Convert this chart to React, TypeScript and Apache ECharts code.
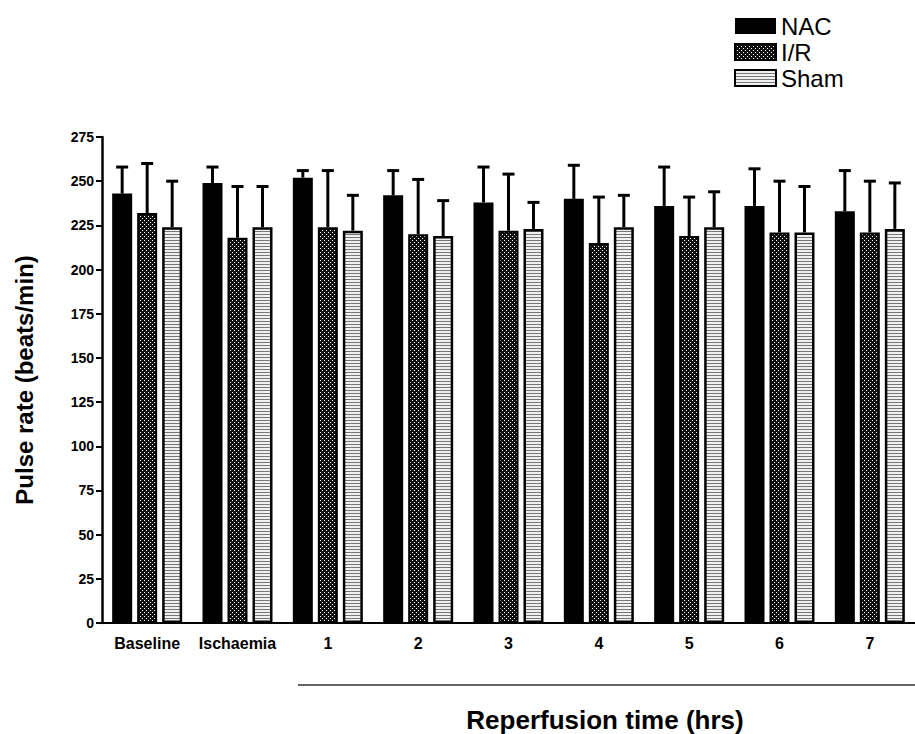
import React, { useEffect, useRef } from 'react';
import * as echarts from 'echarts';

// Time points along the x axis
const categories = ['Baseline', 'Ischaemia', '1', '2', '3', '4', '5', '6', '7'];

// Pulse rate means (beats/min) and standard deviations per group
const nacMean = [243, 249, 252, 242, 238, 240, 236, 236, 233];
const nacSD = [15, 9, 4, 14, 20, 19, 22, 21, 23];
const irMean = [232, 218, 224, 220, 222, 215, 219, 221, 221];
const irSD = [28, 29, 32, 31, 32, 26, 22, 29, 29];
const shamMean = [224, 224, 222, 219, 223, 224, 224, 221, 223];
const shamSD = [26, 23, 20, 20, 15, 18, 20, 26, 26];

const seriesNames = ['NAC', 'I/R', 'Sham'];

const FONT = '"Liberation Sans", Arial, Helvetica, sans-serif';

// Black with white dots
function dotPattern(): HTMLCanvasElement {
  const c = document.createElement('canvas');
  c.width = 4;
  c.height = 4;
  const g = c.getContext('2d')!;
  g.fillStyle = '#111';
  g.fillRect(0, 0, 4, 4);
  g.fillStyle = '#fff';
  g.fillRect(0, 0, 1, 1);
  g.fillRect(2, 2, 1, 1);
  return c;
}

// Light fill with thin horizontal rules
function stripePattern(): HTMLCanvasElement {
  const c = document.createElement('canvas');
  c.width = 4;
  c.height = 3;
  const g = c.getContext('2d')!;
  g.fillStyle = '#f0f0f0';
  g.fillRect(0, 0, 4, 3);
  g.fillStyle = '#777';
  g.fillRect(0, 0, 4, 1);
  return c;
}

const BAR_W = 20;
const BAR_STEP = 25; // bar width + gap

export default function App() {
  const ref = useRef<HTMLDivElement>(null);

  useEffect(() => {
    if (!ref.current) return;
    const chart = echarts.init(ref.current, null, { renderer: 'svg' });

    const irFill = { image: dotPattern(), repeat: 'repeat', imageWidth: 4, imageHeight: 4 };
    const shamFill = { image: stripePattern(), repeat: 'repeat', imageWidth: 4, imageHeight: 3 };

    const means = [nacMean, irMean, shamMean];
    const sds = [nacSD, irSD, shamSD];
    const itemStyles = [
      { color: '#000', borderColor: '#000', borderWidth: 0 },
      { color: irFill, borderColor: '#000', borderWidth: 2 },
      { color: shamFill, borderColor: '#000', borderWidth: 2.5 },
    ];

    const barSeries = seriesNames.map((name, s) => ({
      name,
      type: 'bar',
      barWidth: BAR_W,
      barGap: '25%',
      data: means[s],
      itemStyle: itemStyles[s] as any,
      z: 2,
    }));

    const errorSeries = seriesNames.map((name, s) => ({
      name: name + ' SD',
      type: 'custom',
      z: 3,
      data: means[s].map((m, i) => [i, m, sds[s][i]]),
      renderItem: (_params: any, api: any) => {
        const idx = api.value(0);
        const mean = api.value(1);
        const sd = api.value(2);
        const base = api.coord([idx, mean]);
        const top = api.coord([idx, mean + sd]);
        const x = base[0] + (s - 1) * BAR_STEP;
        return {
          type: 'group',
          children: [
            {
              type: 'line',
              shape: { x1: x, y1: base[1], x2: x, y2: top[1] },
              style: { stroke: '#000', lineWidth: 3 },
            },
            {
              type: 'line',
              shape: { x1: x - 6, y1: top[1], x2: x + 6, y2: top[1] },
              style: { stroke: '#000', lineWidth: 3 },
            },
          ],
        };
      },
    }));

    chart.setOption({
      animation: false,
      backgroundColor: '#fff',
      textStyle: { fontFamily: FONT },
      grid: { left: 102, top: 137, width: 819, height: 486, containLabel: false },
      legend: {
        data: seriesNames,
        orient: 'vertical',
        left: 729,
        top: 9,
        itemWidth: 41,
        itemHeight: 16,
        itemGap: 2,
        icon: 'rect',
        selectedMode: false,
        textStyle: { fontSize: 24, fontFamily: FONT, color: '#000', lineHeight: 24 },
      },
      xAxis: {
        type: 'category',
        data: categories,
        axisLine: { lineStyle: { color: '#000', width: 2 } },
        axisTick: { alignWithLabel: true, length: 6, lineStyle: { color: '#000', width: 2 } },
        axisLabel: {
          color: '#000',
          fontWeight: 'bold',
          fontSize: 16,
          fontFamily: FONT,
          margin: 12,
          interval: 0,
        },
      },
      yAxis: {
        type: 'value',
        min: 0,
        max: 275,
        interval: 25,
        name: 'Pulse rate (beats/min)',
        nameLocation: 'middle',
        nameGap: 66,
        nameTextStyle: { fontSize: 24, fontWeight: 'bold', color: '#000', fontFamily: FONT },
        axisLine: { show: true, lineStyle: { color: '#000', width: 2.5 } },
        axisTick: { show: true, length: 6, lineStyle: { color: '#000', width: 2 } },
        axisLabel: { color: '#000', fontWeight: 'bold', fontSize: 14, fontFamily: FONT, margin: 8 },
        splitLine: { show: false },
      },
      graphic: [
        {
          type: 'line',
          shape: { x1: 298, y1: 685, x2: 915, y2: 685 },
          style: { stroke: '#333', lineWidth: 1.5 },
        },
        {
          type: 'text',
          x: 605,
          y: 720,
          style: {
            text: 'Reperfusion time (hrs)',
            fontSize: 26,
            fontWeight: 'bold',
            fontFamily: FONT,
            fill: '#000',
            align: 'center',
            verticalAlign: 'middle',
          },
        },
      ],
      series: [...barSeries, ...errorSeries],
    } as any);

    return () => chart.dispose();
  }, []);

  return (
    <div
      ref={ref}
      style={{ position: 'absolute', left: 0, top: 0, width: 915, height: 734, overflow: 'hidden' }}
    />
  );
}
